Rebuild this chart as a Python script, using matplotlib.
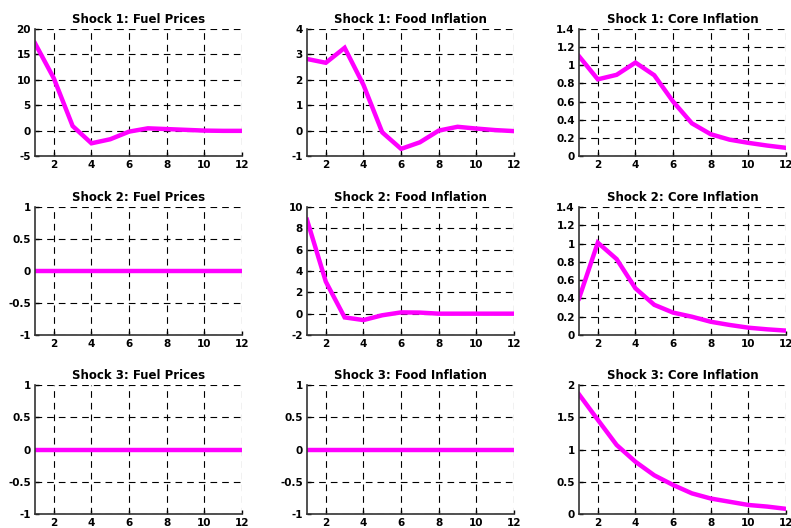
import numpy as np
import matplotlib
matplotlib.use('Agg')
import matplotlib.pyplot as plt

periods = list(range(1, 13))

shocks = ['Shock 1', 'Shock 2', 'Shock 3']
variables = ['Fuel Prices', 'Food Inflation', 'Core Inflation']

# impulse responses, rows = shock, cols = variable
s1_fuel = [17.2, 10.3, 0.9, -2.5, -1.7, -0.2, 0.45, 0.3, 0.15, 0.0, -0.05, -0.05]
s1_food = [2.82, 2.67, 3.26, 1.8, -0.07, -0.72, -0.46, 0.0, 0.15, 0.08, 0.02, -0.02]
s1_core = [1.10, 0.845, 0.895, 1.03, 0.89, 0.6, 0.36, 0.24, 0.18, 0.145, 0.115, 0.09]

s2_fuel = [0.0] * 12
s2_food = [8.8, 3.0, -0.35, -0.6, -0.15, 0.12, 0.1, 0.0, 0.0, 0.0, 0.0, 0.0]
s2_core = [0.40, 1.01, 0.83, 0.51, 0.33, 0.245, 0.2, 0.145, 0.11, 0.08, 0.062, 0.048]

s3_fuel = [0.0] * 12
s3_food = [0.0] * 12
s3_core = [1.855, 1.46, 1.07, 0.81, 0.6, 0.45, 0.32, 0.24, 0.19, 0.14, 0.115, 0.08]

responses = [[s1_fuel, s1_food, s1_core],
             [s2_fuel, s2_food, s2_core],
             [s3_fuel, s3_food, s3_core]]

ylims = [[(-5, 20, 5), (-1, 4, 1), (0, 1.4, 0.2)],
         [(-1, 1, 0.5), (-2, 10, 2), (0, 1.4, 0.2)],
         [(-1, 1, 0.5), (-1, 1, 0.5), (0, 2, 0.5)]]

def fmt(v):
    s = ('%.2f' % v).rstrip('0').rstrip('.')
    return '0' if s in ('-0', '') else s

fig = plt.figure(figsize=(7.91, 5.28), dpi=100)

lefts = [35, 307, 579]
rows = [(29, 156), (207, 335), (385, 514)]
W, H = 791.0, 528.0

for i in range(3):
    for j in range(3):
        top, bot = rows[i]
        ax = fig.add_axes([lefts[j] / W, (H - bot) / H, 207 / W, (bot - top) / H])
        ax.plot(periods, responses[i][j], color='#ff00ff', lw=3.2, solid_joinstyle='miter')
        lo, hi, st = ylims[i][j]
        yt = np.arange(lo, hi + st / 2, st)
        ax.set_ylim(lo, hi)
        ax.set_yticks(yt)
        ax.set_yticklabels([fmt(v) for v in yt])
        ax.set_xlim(1, 12)
        ax.set_xticks([2, 4, 6, 8, 10, 12])
        ax.grid(True, color='black', lw=0.8, linestyle=(0, (6, 4.5)))
        for s in ['top', 'right']:
            ax.spines[s].set_visible(False)
        for s in ['left', 'bottom']:
            ax.spines[s].set_color('#333333')
            ax.spines[s].set_linewidth(1.2)
        ax.tick_params(direction='in', length=3, width=1, labelsize=7.5, pad=3)
        for lab in ax.get_xticklabels() + ax.get_yticklabels():
            lab.set_fontweight('bold')
        ax.set_title(shocks[i] + ': ' + variables[j], fontsize=8.5, fontweight='bold', pad=4)

plt.savefig('out.png', dpi=100)
